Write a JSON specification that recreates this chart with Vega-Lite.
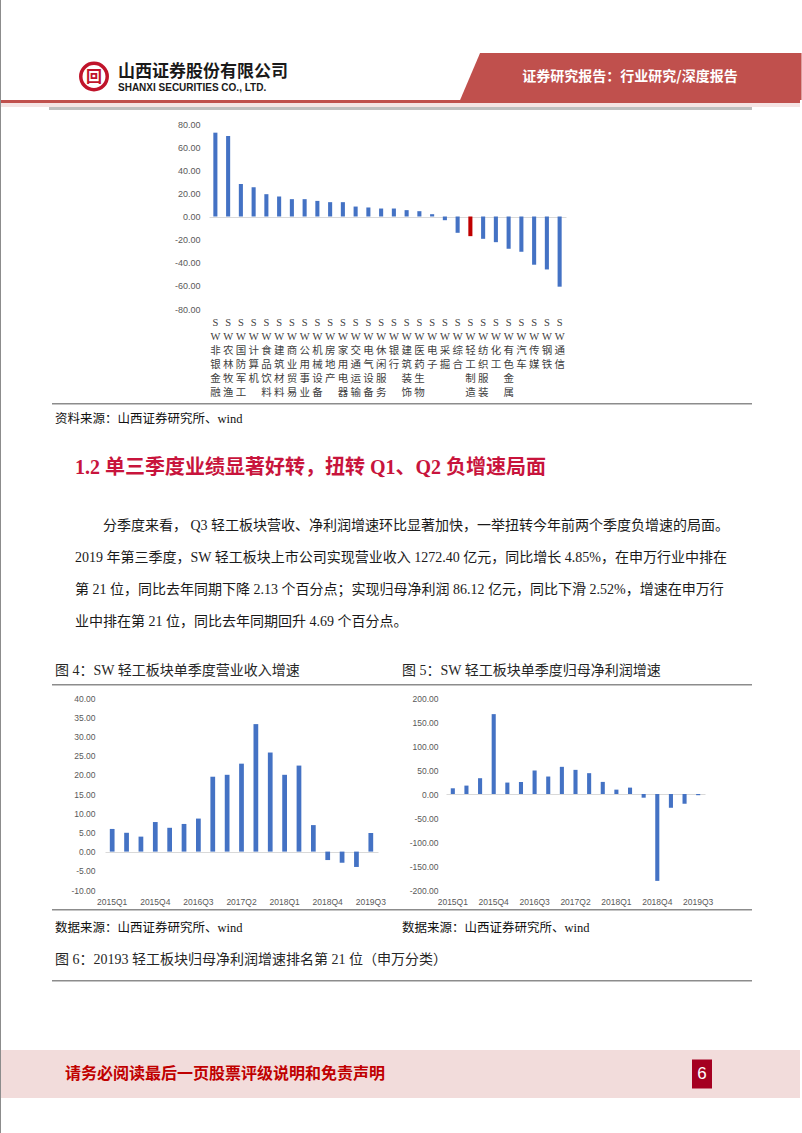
{
  "$schema": "https://vega.github.io/schema/vega-lite/v6.json",
  "padding": 0,
  "background": "white",
  "spacing": 0,
  "hconcat": [
    {"width": 1, "height": 1133, "view": {"fill": "#8c8c8c"}, "data": {"values": []}, "mark": {"type": "text", "text": ""}},
    {
      "spacing": 0,
      "vconcat": [
        {"width": 1, "height": 53, "data": {"values": []}, "mark": {"type": "text", "text": ""}},
        {
          "spacing": 0,
          "bounds": "flush",
          "hconcat": [
            {"width": 75, "height": 47, "data": {"values": []}, "mark": {"type": "text", "text": ""}},
            {"width": 36, "height": 47, "data": {"values": [{"k": 1}]}, "layer": [
              {"mark": {"type": "point", "shape": "circle", "size": 700, "filled": false, "color": "#c0142b", "strokeWidth": 3.5, "opacity": 1}},
              {"mark": {"type": "text", "text": "回", "fontSize": 16, "fontWeight": "bold", "color": "#c0142b", "baseline": "middle", "align": "center"}}
            ]},
            {"width": 5, "height": 47, "data": {"values": []}, "mark": {"type": "text", "text": ""}},
            {"width": 2, "height": 47, "data": {"values": [{"k": 1}]}, "layer": [
              {"mark": {"type": "text", "text": "山西证券股份有限公司", "align": "left", "baseline": "alphabetic", "fontSize": 17, "fontWeight": "bold", "color": "#1a1a1a", "font": "Noto Sans CJK SC"}},
              {"mark": {"type": "text", "text": "SHANXI SECURITIES CO., LTD.", "align": "left", "baseline": "line-top", "lineHeight": 23, "fontSize": 10, "fontWeight": "bold", "color": "#1a1a1a", "font": "Liberation Sans"}}
            ]},
            {"width": 341, "height": 47, "data": {"values": []}, "mark": {"type": "text", "text": ""}},
            {"width": 340, "height": 47, "data": {"values": [{"k": 1}]}, "layer": [
              {"mark": {"type": "point", "shape": "M -6.38 -1 L 7.3 -1 L 7.3 1 L -7.23 1 Z", "size": 2209, "filled": true, "color": "#c0504d", "opacity": 1, "strokeWidth": 0}},
              {"mark": {"type": "text", "text": "证券研究报告：行业研究/深度报告", "fontSize": 14, "fontWeight": "bold", "color": "white", "align": "center", "baseline": "middle", "font": "Noto Sans CJK SC"}}
            ]}
          ]
        },
        {"width": 799, "height": 3, "view": {"fill": "#c0504d"}, "data": {"values": []}, "mark": {"type": "text", "text": ""}},
        {"width": 799, "height": 4, "view": {"fill": "#f5e4e4"}, "data": {"values": []}, "mark": {"type": "text", "text": ""}},
        {
          "spacing": 0,
          "bounds": "flush",
          "hconcat": [
            {"width": 48, "height": 3, "data": {"values": []}, "mark": {"type": "text", "text": ""}},
            {"width": 703, "height": 3, "view": {"fill": "#bfbfbf"}, "data": {"values": []}, "mark": {"type": "text", "text": ""}}
          ]
        },
        {"width": 1, "height": 9.5, "data": {"values": []}, "mark": {"type": "text", "text": ""}},
        {
          "spacing": 0,
          "bounds": "flush",
          "hconcat": [
            {"width": 208, "height": 185, "data": {"values": []}, "mark": {"type": "text", "text": ""}},
            {
              "width": 357,
              "height": 185,
              "data": {"values": [
                {"name": "非银金融", "v": 72.5},
                {"name": "农林牧渔", "v": 69.6},
                {"name": "国防军工", "v": 28.2},
                {"name": "计算机", "v": 25.3},
                {"name": "食品饮料", "v": 19.3},
                {"name": "建筑材料", "v": 17.3},
                {"name": "商业贸易", "v": 15.0},
                {"name": "公用事业", "v": 15.0},
                {"name": "机械设备", "v": 13.5},
                {"name": "房地产", "v": 12.4},
                {"name": "家用电器", "v": 12.4},
                {"name": "交通运输", "v": 8.6},
                {"name": "电气设备", "v": 7.8},
                {"name": "休闲服务", "v": 6.9},
                {"name": "银行", "v": 6.9},
                {"name": "建筑装饰", "v": 5.5},
                {"name": "医药生物", "v": 4.6},
                {"name": "电子", "v": 2.0},
                {"name": "采掘", "v": -3.2},
                {"name": "综合", "v": -14.1},
                {"name": "轻工制造", "v": -17.0},
                {"name": "纺织服装", "v": -19.3},
                {"name": "化工", "v": -22.2},
                {"name": "有色金属", "v": -27.9},
                {"name": "汽车", "v": -30.5},
                {"name": "传媒", "v": -41.7},
                {"name": "钢铁", "v": -45.8},
                {"name": "通信", "v": -60.7}
              ]},
              "mark": {"type": "bar"},
              "encoding": {
                "x": {
                  "field": "name", "type": "nominal", "sort": null,
                  "scale": {"paddingInner": 0.68, "paddingOuter": 0.34},
                  "axis": {"title": null, "labelExpr": "split('SW' + datum.value, '')", "labelAngle": 0, "labelBaseline": "top", "labelLineHeight": 14, "labelFontSize": 10.5, "labelFont": "Liberation Serif, Noto Sans CJK SC", "labelColor": "#404040", "labelPadding": 8, "labelOverlap": false, "labelLimit": 0, "labelBound": false, "labelFlush": false}
                },
                "y": {
                  "field": "v", "type": "quantitative",
                  "scale": {"domain": [-80, 80], "nice": false},
                  "axis": {"title": null, "values": [-80, -60, -40, -20, 0, 20, 40, 60, 80], "format": ".2f", "labelPadding": 9, "labelFontSize": 9, "grid": true, "gridColor": "#d9d9d9", "gridOpacity": {"condition": {"test": "datum.value === 0", "value": 1}, "value": 0}}
                },
                "color": {"condition": {"test": "datum.name === '轻工制造'", "value": "#c00000"}, "value": "#4472c4"}
              }
            }
          ]
        },
        {"width": 1, "height": 4.5, "data": {"values": []}, "mark": {"type": "text", "text": ""}},
        {
          "spacing": 0,
          "bounds": "flush",
          "hconcat": [
            {"width": 51, "height": 1.5, "data": {"values": []}, "mark": {"type": "text", "text": ""}},
            {"width": 700, "height": 1.5, "view": {"fill": "#8c8c8c"}, "data": {"values": []}, "mark": {"type": "text", "text": ""}}
          ]
        },
        {
          "spacing": 0,
          "bounds": "flush",
          "hconcat": [
            {"width": 53, "height": 27, "data": {"values": []}, "mark": {"type": "text", "text": ""}},
            {"width": 2, "height": 27, "data": {"values": [{"k": 1}]}, "mark": {"type": "text", "text": "资料来源：山西证券研究所、wind", "align": "left", "baseline": "middle", "fontSize": 12.5, "font": "Liberation Serif, Noto Sans CJK SC", "color": "#111111"}}
          ]
        },
        {
          "spacing": 0,
          "bounds": "flush",
          "hconcat": [
            {"width": 73, "height": 72, "data": {"values": []}, "mark": {"type": "text", "text": ""}},
            {"width": 2, "height": 72, "data": {"values": [{"k": 1}]}, "mark": {"type": "text", "text": "1.2  单三季度业绩显著好转，扭转 Q1、Q2 负增速局面", "align": "left", "baseline": "middle", "fontSize": 20, "fontWeight": "bold", "font": "Liberation Serif, Noto Sans CJK SC", "color": "#c8143c"}}
          ]
        },
        {
          "spacing": 0,
          "bounds": "flush",
          "hconcat": [
            {"width": 73, "height": 43, "data": {"values": []}, "mark": {"type": "text", "text": ""}},
            {"width": 2, "height": 43, "data": {"values": [{"k": 1}]}, "mark": {"type": "text", "text": [
              "\u200b\u3000\u3000分季度来看，  Q3 轻工板块营收、净利润增速环比显著加快，一举扭转今年前两个季度负增速的局面。",
              "2019 年第三季度，SW 轻工板块上市公司实现营业收入 1272.40 亿元，同比增长 4.85%，在申万行业中排在",
              "第 21 位，同比去年同期下降 2.13 个百分点；实现归母净利润 86.12 亿元，同比下滑 2.52%，增速在申万行",
              "业中排在第 21 位，同比去年同期回升 4.69 个百分点。"
            ], "lineHeight": 32, "align": "left", "baseline": "middle", "fontSize": 14, "font": "Liberation Serif, Noto Sans CJK SC", "color": "#1a1a1a"}}
          ]
        },
        {"width": 1, "height": 28, "data": {"values": []}, "mark": {"type": "text", "text": ""}},
        {
          "spacing": 0,
          "bounds": "flush",
          "hconcat": [
            {"width": 53, "height": 27, "data": {"values": []}, "mark": {"type": "text", "text": ""}},
            {"width": 2, "height": 27, "data": {"values": [{"k": 1}]}, "mark": {"type": "text", "text": "图 4：SW 轻工板块单季度营业收入增速", "align": "left", "baseline": "middle", "fontSize": 14, "font": "Liberation Serif, Noto Sans CJK SC", "color": "#262626"}},
            {"width": 345, "height": 27, "data": {"values": []}, "mark": {"type": "text", "text": ""}},
            {"width": 2, "height": 27, "data": {"values": [{"k": 1}]}, "mark": {"type": "text", "text": "图 5：SW 轻工板块单季度归母净利润增速", "align": "left", "baseline": "middle", "fontSize": 14, "font": "Liberation Serif, Noto Sans CJK SC", "color": "#262626"}}
          ]
        },
        {
          "spacing": 0,
          "bounds": "flush",
          "hconcat": [
            {"width": 51, "height": 1.5, "data": {"values": []}, "mark": {"type": "text", "text": ""}},
            {"width": 700, "height": 1.5, "view": {"fill": "#8c8c8c"}, "data": {"values": []}, "mark": {"type": "text", "text": ""}}
          ]
        },
        {"width": 1, "height": 7.75, "data": {"values": []}, "mark": {"type": "text", "text": ""}},
        {
          "spacing": 0,
          "bounds": "flush",
          "hconcat": [
            {"width": 104, "height": 192, "data": {"values": []}, "mark": {"type": "text", "text": ""}},
            {
              "width": 273,
              "height": 192,
              "data": {"values": [
                {"q": "2015Q1", "v": 5.9}, {"q": "2015Q2", "v": 4.9}, {"q": "2015Q3", "v": 3.9}, {"q": "2015Q4", "v": 7.7},
                {"q": "2016Q1", "v": 6.2}, {"q": "2016Q2", "v": 7.2}, {"q": "2016Q3", "v": 8.6}, {"q": "2016Q4", "v": 19.5},
                {"q": "2017Q1", "v": 20.0}, {"q": "2017Q2", "v": 22.9}, {"q": "2017Q3", "v": 33.2}, {"q": "2017Q4", "v": 25.8},
                {"q": "2018Q1", "v": 20.0}, {"q": "2018Q2", "v": 22.4}, {"q": "2018Q3", "v": 6.9}, {"q": "2018Q4", "v": -2.2},
                {"q": "2019Q1", "v": -2.9}, {"q": "2019Q2", "v": -4.0}, {"q": "2019Q3", "v": 4.85}
              ]},
              "mark": {"type": "bar", "color": "#4472c4"},
              "encoding": {
                "x": {
                  "field": "q", "type": "nominal", "sort": null,
                  "scale": {"paddingInner": 0.67, "paddingOuter": 0.335},
                  "axis": {"title": null, "values": ["2015Q1", "2015Q4", "2016Q3", "2017Q2", "2018Q1", "2018Q4", "2019Q3"], "labelAngle": 0, "labelBaseline": "top", "labelPadding": 7, "labelFontSize": 8.5, "labelOverlap": false}
                },
                "y": {
                  "field": "v", "type": "quantitative",
                  "scale": {"domain": [-10, 40], "nice": false},
                  "axis": {"title": null, "values": [-10, -5, 0, 5, 10, 15, 20, 25, 30, 35, 40], "format": ".2f", "labelPadding": 10, "labelFontSize": 8.5, "grid": true, "gridColor": "#d9d9d9", "gridOpacity": {"condition": {"test": "datum.value === 0", "value": 1}, "value": 0}}
                }
              }
            },
            {"width": 68, "height": 192, "data": {"values": []}, "mark": {"type": "text", "text": ""}},
            {
              "width": 259,
              "height": 192,
              "data": {"values": [
                {"q": "2015Q1", "v": 11.9}, {"q": "2015Q2", "v": 17.5}, {"q": "2015Q3", "v": 32.9}, {"q": "2015Q4", "v": 166.4},
                {"q": "2016Q1", "v": 23.8}, {"q": "2016Q2", "v": 25.2}, {"q": "2016Q3", "v": 49.0}, {"q": "2016Q4", "v": 36.4},
                {"q": "2017Q1", "v": 56.6}, {"q": "2017Q2", "v": 50.3}, {"q": "2017Q3", "v": 43.4}, {"q": "2017Q4", "v": 25.2},
                {"q": "2018Q1", "v": 9.1}, {"q": "2018Q2", "v": 13.3}, {"q": "2018Q3", "v": -7.7}, {"q": "2018Q4", "v": -181.0},
                {"q": "2019Q1", "v": -28.7}, {"q": "2019Q2", "v": -20.3}, {"q": "2019Q3", "v": -2.52}
              ]},
              "mark": {"type": "bar", "color": "#4472c4"},
              "encoding": {
                "x": {
                  "field": "q", "type": "nominal", "sort": null,
                  "scale": {"paddingInner": 0.7, "paddingOuter": 0.35},
                  "axis": {"title": null, "values": ["2015Q1", "2015Q4", "2016Q3", "2017Q2", "2018Q1", "2018Q4", "2019Q3"], "labelAngle": 0, "labelBaseline": "top", "labelPadding": 7, "labelFontSize": 8.5, "labelOverlap": false}
                },
                "y": {
                  "field": "v", "type": "quantitative",
                  "scale": {"domain": [-200, 200], "nice": false},
                  "axis": {"title": null, "values": [-200, -150, -100, -50, 0, 50, 100, 150, 200], "format": ".2f", "labelPadding": 8, "labelFontSize": 8.5, "grid": true, "gridColor": "#d9d9d9", "gridOpacity": {"condition": {"test": "datum.value === 0", "value": 1}, "value": 0}}
                }
              }
            }
          ]
        },
        {"width": 1, "height": 2.5, "data": {"values": []}, "mark": {"type": "text", "text": ""}},
        {
          "spacing": 0,
          "bounds": "flush",
          "hconcat": [
            {"width": 51, "height": 1.5, "data": {"values": []}, "mark": {"type": "text", "text": ""}},
            {"width": 700, "height": 1.5, "view": {"fill": "#8c8c8c"}, "data": {"values": []}, "mark": {"type": "text", "text": ""}}
          ]
        },
        {
          "spacing": 0,
          "bounds": "flush",
          "hconcat": [
            {"width": 53, "height": 33, "data": {"values": []}, "mark": {"type": "text", "text": ""}},
            {"width": 2, "height": 33, "data": {"values": [{"k": 1}]}, "mark": {"type": "text", "text": "数据来源：山西证券研究所、wind", "align": "left", "baseline": "middle", "fontSize": 12.5, "font": "Liberation Serif, Noto Sans CJK SC", "color": "#111111"}},
            {"width": 345, "height": 33, "data": {"values": []}, "mark": {"type": "text", "text": ""}},
            {"width": 2, "height": 33, "data": {"values": [{"k": 1}]}, "mark": {"type": "text", "text": "数据来源：山西证券研究所、wind", "align": "left", "baseline": "middle", "fontSize": 12.5, "font": "Liberation Serif, Noto Sans CJK SC", "color": "#111111"}}
          ]
        },
        {
          "spacing": 0,
          "bounds": "flush",
          "hconcat": [
            {"width": 53, "height": 32, "data": {"values": []}, "mark": {"type": "text", "text": ""}},
            {"width": 2, "height": 32, "data": {"values": [{"k": 1}]}, "mark": {"type": "text", "text": "图 6：20193 轻工板块归母净利润增速排名第 21 位（申万分类）", "align": "left", "baseline": "middle", "fontSize": 14, "font": "Liberation Serif, Noto Sans CJK SC", "color": "#262626"}}
          ]
        },
        {"width": 1, "height": 3.5, "data": {"values": []}, "mark": {"type": "text", "text": ""}},
        {
          "spacing": 0,
          "bounds": "flush",
          "hconcat": [
            {"width": 51, "height": 1.5, "data": {"values": []}, "mark": {"type": "text", "text": ""}},
            {"width": 700, "height": 1.5, "view": {"fill": "#8c8c8c"}, "data": {"values": []}, "mark": {"type": "text", "text": ""}}
          ]
        },
        {"width": 1, "height": 68, "data": {"values": []}, "mark": {"type": "text", "text": ""}},
        {
          "spacing": 0,
          "bounds": "flush",
          "hconcat": [
            {"width": 448, "height": 48, "view": {"fill": "#f2dcdb"}, "data": {"values": [{"k": 1}]}, "mark": {"type": "text", "text": "请务必阅读最后一页股票评级说明和免责声明", "align": "center", "baseline": "middle", "fontSize": 16, "fontWeight": "bold", "font": "Noto Sans CJK SC", "color": "#c00000"}},
            {"width": 243, "height": 48, "view": {"fill": "#f2dcdb"}, "data": {"values": []}, "mark": {"type": "text", "text": ""}},
            {"width": 20, "height": 48, "view": {"fill": "#f2dcdb"}, "data": {"values": [{"k": 1}]}, "layer": [
              {"mark": {"type": "point", "shape": "M -0.69 -1 L 0.69 -1 L 0.69 1 L -0.69 1 Z", "size": 841, "filled": true, "color": "#a50021", "opacity": 1, "strokeWidth": 0}},
              {"mark": {"type": "text", "text": "6", "align": "center", "baseline": "middle", "fontSize": 17, "font": "Liberation Sans", "color": "white"}}
            ]},
            {"width": 88, "height": 48, "view": {"fill": "#f2dcdb"}, "data": {"values": []}, "mark": {"type": "text", "text": ""}}
          ]
        },
        {"width": 1, "height": 35, "data": {"values": []}, "mark": {"type": "text", "text": ""}}
      ]
    },
    {"width": 1, "height": 1133, "view": {"fill": "#8c8c8c"}, "data": {"values": []}, "mark": {"type": "text", "text": ""}}
  ],
  "config": {
    "view": {"stroke": null},
    "font": "Noto Sans CJK SC",
    "axis": {"domain": false, "ticks": false, "grid": false, "labelColor": "#595959", "labelFont": "Liberation Sans", "labelFontSize": 9},
    "locale": {"number": {"decimal": ".", "thousands": ",", "grouping": [3], "currency": ["$", ""], "minus": "-"}}
  }
}
